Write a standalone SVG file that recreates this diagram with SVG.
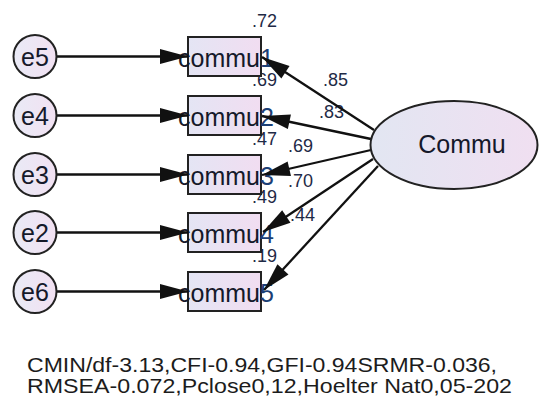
<svg xmlns="http://www.w3.org/2000/svg" width="544" height="401" viewBox="0 0 544 401">
<defs>
<linearGradient id="gBox" x1="0" y1="0" x2="1" y2="0">
<stop offset="0" stop-color="#e4e5f4"/><stop offset="1" stop-color="#f1ddf1"/>
</linearGradient>
<linearGradient id="gCirc" x1="0" y1="0" x2="1" y2="0">
<stop offset="0" stop-color="#e9eaf6"/><stop offset="1" stop-color="#f2e1f2"/>
</linearGradient>
<linearGradient id="gEll" x1="0" y1="0" x2="1" y2="0">
<stop offset="0" stop-color="#e2e6f2"/><stop offset="1" stop-color="#f0dff1"/>
</linearGradient>
<marker id="arr" markerUnits="userSpaceOnUse" markerWidth="30" markerHeight="16" refX="28" refY="7.5" orient="auto" overflow="visible">
<path d="M0,0 L28,7.5 L0,15 Z" fill="#111"/>
</marker>
</defs>
<style>
.box{fill:url(#gBox);stroke:#222;stroke-width:2}
.circ{fill:url(#gCirc);stroke:#222;stroke-width:2}
.ell{fill:url(#gEll);stroke:#222;stroke-width:2}
.t{font-family:"Liberation Sans",Arial,sans-serif;fill:#15192a}
.big{font-size:25px}
.num{font-size:18px;fill:#1f2a46}
.dig{fill:#1c3f75}
.ln{stroke:#111;stroke-width:2.3;fill:none;marker-end:url(#arr)}
.fit{font-size:21px;fill:#1c1c1c}
</style>

<g id="labels-r2">
<text class="t num" x="277" y="27" text-anchor="end">.72</text>
<text class="t num" x="277" y="86" text-anchor="end">.69</text>
<text class="t num" x="277" y="145" text-anchor="end">.47</text>
<text class="t num" x="277" y="203" text-anchor="end">.49</text>
<text class="t num" x="277" y="262" text-anchor="end">.19</text>
</g>

<g id="commu1"><rect class="box" x="188" y="37" width="73" height="39"/><text class="t big" x="178" y="67">commu<tspan class="dig">1</tspan></text></g>
<g id="commu2"><rect class="box" x="188" y="96" width="73" height="39"/><text class="t big" x="178" y="126">commu<tspan class="dig">2</tspan></text></g>
<g id="commu3"><rect class="box" x="188" y="155" width="73" height="39"/><text class="t big" x="178" y="185">commu<tspan class="dig">3</tspan></text></g>
<g id="commu4"><rect class="box" x="188" y="213" width="73" height="39"/><text class="t big" x="178" y="243">commu<tspan class="dig">4</tspan></text></g>
<g id="commu5"><rect class="box" x="188" y="272" width="73" height="39"/><text class="t big" x="178" y="302">commu<tspan class="dig">5</tspan></text></g>

<g id="loadings">
<text class="t num" x="348" y="86" text-anchor="end">.85</text>
<text class="t num" x="344" y="118" text-anchor="end">.83</text>
<text class="t num" x="313" y="152" text-anchor="end">.69</text>
<text class="t num" x="313" y="187" text-anchor="end">.70</text>
<text class="t num" x="315" y="221" text-anchor="end">.44</text>
</g>

<g id="connectors">
<line class="ln" x1="57" y1="56.5" x2="188" y2="56.5"/>
<line class="ln" x1="57" y1="115.5" x2="188" y2="115.5"/>
<line class="ln" x1="57" y1="174.5" x2="188" y2="174.5"/>
<line class="ln" x1="57" y1="232.5" x2="188" y2="232.5"/>
<line class="ln" x1="57" y1="291.5" x2="188" y2="291.5"/>
<line class="ln" x1="374" y1="130" x2="262" y2="57"/>
<line class="ln" x1="371" y1="139" x2="262" y2="116"/>
<line class="ln" x1="371" y1="150" x2="262" y2="175"/>
<line class="ln" x1="373" y1="159" x2="263" y2="232"/>
<line class="ln" x1="378" y1="166" x2="264" y2="290"/>
</g>

<g id="e5"><circle class="circ" cx="35" cy="56.5" r="21.5"/><text class="t big" x="35" y="65.5" text-anchor="middle">e5</text></g>
<g id="e4"><circle class="circ" cx="35" cy="115.5" r="21.5"/><text class="t big" x="35" y="124.5" text-anchor="middle">e4</text></g>
<g id="e3"><circle class="circ" cx="35" cy="174.5" r="21.5"/><text class="t big" x="35" y="183.5" text-anchor="middle">e3</text></g>
<g id="e2"><circle class="circ" cx="35" cy="232.5" r="21.5"/><text class="t big" x="35" y="241.5" text-anchor="middle">e2</text></g>
<g id="e6"><circle class="circ" cx="35" cy="291.5" r="21.5"/><text class="t big" x="35" y="300.5" text-anchor="middle">e6</text></g>

<g id="Commu"><ellipse class="ell" cx="454" cy="145" rx="83.5" ry="44"/><text class="t big" x="462" y="153" text-anchor="middle">Commu</text></g>

<g id="fit">
<text class="t fit" x="27" y="372" textLength="470" lengthAdjust="spacingAndGlyphs">CMIN/df-3.13,CFI-0.94,GFI-0.94SRMR-0.036,</text>
<text class="t fit" x="27" y="393" textLength="485" lengthAdjust="spacingAndGlyphs">RMSEA-0.072,Pclose0,12,Hoelter Nat0,05-202</text>
</g>
</svg>
